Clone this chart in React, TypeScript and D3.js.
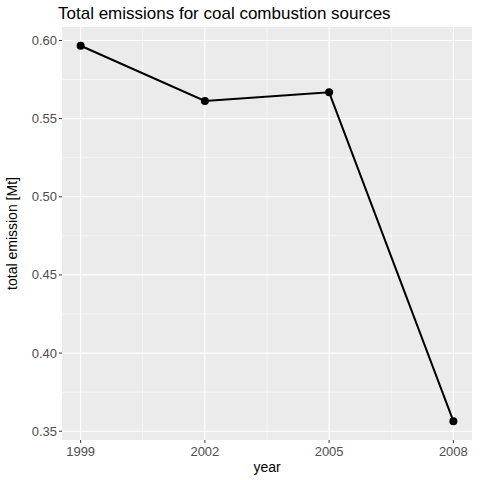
import React from 'react';
import * as d3 from 'd3';

const years = [1999, 2002, 2005, 2008];
const emissions = [0.5966, 0.5613, 0.5668, 0.3564];
const yTicks = [0.35, 0.4, 0.45, 0.5, 0.55, 0.6];

const W = 480, H = 480;
const L = 62, R = 472, T = 27, B = 440;

export default function App() {
  const ex = 9 * 0.05;
  const x = d3.scaleLinear().domain([1999 - ex, 2008 + ex]).range([L, R]);
  const [mn, mx] = d3.extent(emissions) as [number, number];
  const ey = (mx - mn) * 0.05;
  const y = d3.scaleLinear().domain([mn - ey, mx + ey]).range([B, T]);
  const line = d3.line<number>().x((_, i) => x(years[i])).y((d) => y(d));
  const xMinor = years.slice(1).map((v, i) => (v + years[i]) / 2);
  const yMinor = yTicks.slice(1).map((v, i) => (v + yTicks[i]) / 2);
  const font = 'Liberation Sans, Arial, sans-serif';
  return (
    <svg width={W} height={H} style={{ position: 'absolute', left: 0, top: 0 }} fontFamily={font}>
      <rect width={W} height={H} fill="#fff" />
      <rect x={L} y={T} width={R - L} height={B - T} fill="#ebebeb" />
      {xMinor.map((v) => <line key={'xm' + v} x1={x(v)} x2={x(v)} y1={T} y2={B} stroke="#fff" strokeWidth={0.55} />)}
      {yMinor.map((v) => <line key={'ym' + v} x1={L} x2={R} y1={y(v)} y2={y(v)} stroke="#fff" strokeWidth={0.55} />)}
      {years.map((v) => <line key={'x' + v} x1={x(v)} x2={x(v)} y1={T} y2={B} stroke="#fff" strokeWidth={1.1} />)}
      {yTicks.map((v) => <line key={'y' + v} x1={L} x2={R} y1={y(v)} y2={y(v)} stroke="#fff" strokeWidth={1.1} />)}
      <path d={line(emissions) || ''} fill="none" stroke="#000" strokeWidth={2} />
      {emissions.map((v, i) => <circle key={i} cx={x(years[i])} cy={y(v)} r={4} fill="#000" />)}
      {yTicks.map((v) => (
        <g key={'yt' + v}>
          <line x1={L - 3} x2={L} y1={y(v)} y2={y(v)} stroke="#333" />
          <text x={L - 5} y={y(v)} dy="0.35em" textAnchor="end" fontSize={13} fill="#4d4d4d">{v.toFixed(2)}</text>
        </g>
      ))}
      {years.map((v) => (
        <g key={'xt' + v}>
          <line x1={x(v)} x2={x(v)} y1={B} y2={B + 3} stroke="#333" />
          <text x={x(v)} y={B + 16} textAnchor="middle" fontSize={13} fill="#4d4d4d">{v}</text>
        </g>
      ))}
      <text x={(L + R) / 2} y={472} textAnchor="middle" fontSize={14}>year</text>
      <text transform={`translate(17,${(T + B) / 2}) rotate(-90)`} textAnchor="middle" fontSize={14}>total emission [Mt]</text>
      <text x={58} y={19} fontSize={17}>Total emissions for coal combustion sources</text>
    </svg>
  );
}
